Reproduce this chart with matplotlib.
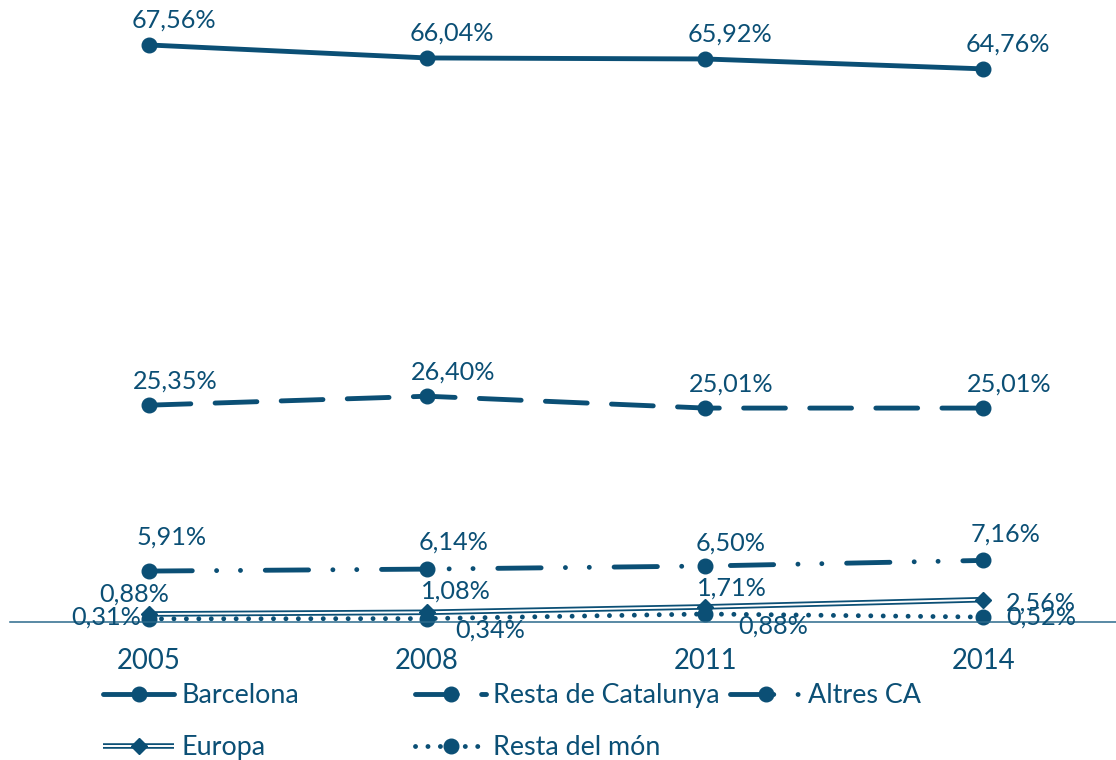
import matplotlib
matplotlib.use("Agg")
import matplotlib.pyplot as plt
from matplotlib.legend_handler import HandlerTuple

# ---- data ----
years = ["2005", "2008", "2011", "2014"]
barcelona = [67.56, 66.04, 65.92, 64.76]
resta_catalunya = [25.35, 26.40, 25.01, 25.01]
altres_ca = [5.91, 6.14, 6.50, 7.16]
europa = [0.88, 1.08, 1.71, 2.56]
resta_mon = [0.31, 0.34, 0.88, 0.52]
series_names = ["Barcelona", "Resta de Catalunya", "Altres CA", "Europa", "Resta del món"]

C = "#0B4F75"
FONT = "Lato"
FS = 18.2      # data labels
FS_T = 19.8    # ticks
FS_L = 19.4    # legend
plt.rcParams["font.family"] = [FONT, "DejaVu Sans"]

W, H = 1116, 760
fig = plt.figure(figsize=(W / 100, H / 100), dpi=100)
ax = fig.add_axes([10 / W, (H - 621.5) / H, 1106 / W, 621.5 / H])
x = list(range(len(years)))
ax.set_xlim(-0.5, 3.478)
ax.set_ylim(0, 72.83)

LW = 3.5
MS = 10.5

def fmt(v):
    return f"{v:.2f}%".replace(".", ",")

# Barcelona
l_bcn, = ax.plot(x, barcelona, color=C, lw=LW, marker="o", ms=MS,
                 solid_capstyle="round", clip_on=False, label=series_names[0])
# Resta de Catalunya
l_rc, = ax.plot(x, resta_catalunya, color=C, lw=LW, marker="o", ms=MS,
                dashes=(8.6, 5.0), dash_capstyle="round", clip_on=False,
                label=series_names[1])
# Altres CA
l_ca, = ax.plot(x, altres_ca, color=C, lw=LW, marker="o", ms=MS,
                dashes=(8.9, 5.0, 0.01, 4.9, 0.01, 5.1), dash_capstyle="round",
                clip_on=False, label=series_names[2])
# Resta del món (dotted)
l_rm, = ax.plot(x, resta_mon, color=C, lw=LW, marker="o", ms=MS,
                dashes=(0.01, 2.55), dash_capstyle="round", clip_on=False,
                label=series_names[4])
# Europa (double line)
l_eu1, = ax.plot(x, europa, color=C, lw=4.0, solid_capstyle="butt", clip_on=False)
l_eu2, = ax.plot(x, europa, color="white", lw=1.4, solid_capstyle="butt", clip_on=False)
l_eu3, = ax.plot(x, europa, color=C, lw=0, marker="D", ms=7.8, clip_on=False)

# ---- data labels (offsets in pixels) ----
def label(series, offsets):
    for i, v in enumerate(series):
        dx, dy, h = offsets[i]
        ax.annotate(fmt(v), (x[i], v), xytext=(dx, dy), textcoords="offset pixels",
                    ha=h, va="center", fontsize=FS, color=C, annotation_clip=False)

label(barcelona, [(25, 25, "center")] * 4)
label(resta_catalunya, [(26, 24, "center")] * 4)
label(altres_ca, [(23, 34, "center"), (27, 27, "center"), (26, 23, "center"), (22, 26, "center")])
label(europa, [(-15, 20, "center"), (29, 21, "center"), (27, 19, "center"), (23, -3, "left")])
label(resta_mon, [(-8, 2, "right"), (63, -11, "center"), (68, -12, "center"), (23, 0, "left")])

# ---- axes styling ----
for s in ["top", "left", "right"]:
    ax.spines[s].set_visible(False)
ax.spines["bottom"].set_color("#2B6A8C")
ax.spines["bottom"].set_linewidth(1.1)
ax.set_yticks([])
ax.set_xticks(x)
ax.set_xticklabels(years)
ax.tick_params(axis="x", length=0, pad=19, labelsize=FS_T, labelcolor=C)

# ---- legend (three fixed-width columns) ----
common = dict(loc="upper left", frameon=False, borderpad=0, fontsize=FS_L,
              handlelength=2.65, handletextpad=0.25, labelspacing=1.0,
              labelcolor=C, borderaxespad=0)
top = 1 - 683 / H
leg1 = fig.legend([l_bcn, (l_eu1, l_eu2, l_eu3)], [series_names[0], series_names[3]],
                  bbox_to_anchor=(103 / W, top),
                  handler_map={tuple: HandlerTuple(ndivide=1, pad=0)}, **common)
leg2 = fig.legend([l_rc, l_rm], [series_names[1], series_names[4]],
                  bbox_to_anchor=(415 / W, top), **common)
leg3 = fig.legend([l_ca], [series_names[2]],
                  bbox_to_anchor=(730 / W, top), **common)

fig.savefig("out.png", dpi=100)
